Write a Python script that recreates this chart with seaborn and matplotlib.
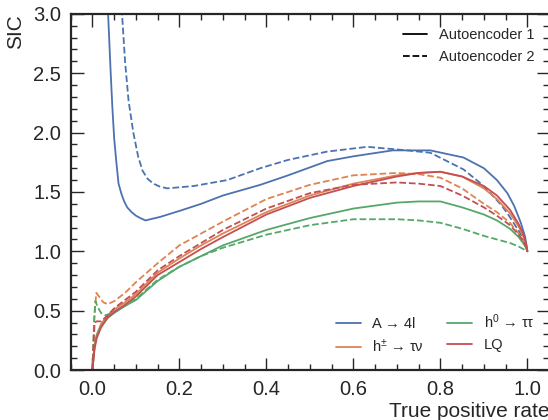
import matplotlib
matplotlib.use("Agg")
import matplotlib.pyplot as plt
from matplotlib.lines import Line2D
from matplotlib.ticker import MultipleLocator
import pandas as pd
import seaborn as sns

# SIC vs true positive rate
tpr = [0, 0.005, 0.01, 0.02, 0.035, 0.05, 0.075, 0.1, 0.125, 0.15, 0.2, 0.25,
       0.3, 0.4, 0.5, 0.6, 0.7, 0.75, 0.8, 0.85, 0.9, 0.93, 0.96, 0.98, 0.99,
       0.997, 1.0]

lq_ae1 = [0, 0.18, 0.27, 0.36, 0.44, 0.49, 0.55, 0.62, 0.71, 0.80, 0.91, 1.02,
          1.12, 1.31, 1.45, 1.55, 1.63, 1.66, 1.67, 1.63, 1.55, 1.47, 1.35,
          1.23, 1.15, 1.07, 1.0]
lq_ae2 = [0, 0.40, 0.41, 0.41, 0.46, 0.52, 0.59, 0.66, 0.75, 0.84, 0.96, 1.07,
          1.18, 1.36, 1.49, 1.56, 1.58, 1.57, 1.55, 1.47, 1.37, 1.30, 1.22,
          1.14, 1.09, 1.04, 1.0]
hpm_ae1 = [0, 0.22, 0.30, 0.39, 0.46, 0.51, 0.57, 0.64, 0.73, 0.82, 0.94, 1.05,
           1.15, 1.33, 1.47, 1.57, 1.64, 1.66, 1.67, 1.63, 1.53, 1.44, 1.32,
           1.21, 1.13, 1.06, 1.0]
h0_ae1 = [0, 0.20, 0.29, 0.37, 0.44, 0.48, 0.54, 0.59, 0.67, 0.75, 0.87, 0.96,
          1.05, 1.18, 1.28, 1.36, 1.41, 1.42, 1.42, 1.37, 1.31, 1.26, 1.19,
          1.12, 1.07, 1.03, 1.0]

tpr_hpm2 = [0, 0.004, 0.009, 0.015, 0.025, 0.035, 0.05, 0.075, 0.1, 0.125,
            0.15, 0.2, 0.25, 0.3, 0.4, 0.5, 0.6, 0.7, 0.75, 0.8, 0.85, 0.9,
            0.93, 0.96, 0.98, 0.99, 0.997, 1.0]
hpm_ae2 = [0, 0.45, 0.65, 0.62, 0.57, 0.555, 0.58, 0.65, 0.74, 0.82, 0.90,
           1.05, 1.15, 1.25, 1.44, 1.56, 1.64, 1.66, 1.65, 1.62, 1.53, 1.40,
           1.33, 1.24, 1.15, 1.09, 1.04, 1.0]

tpr_h02 = [0, 0.004, 0.007, 0.012, 0.02, 0.03, 0.05, 0.075, 0.1, 0.125, 0.15,
           0.2, 0.25, 0.3, 0.4, 0.5, 0.6, 0.7, 0.75, 0.8, 0.85, 0.9, 0.93,
           0.96, 0.98, 0.99, 1.0]
h0_ae2 = [0, 0.40, 0.58, 0.53, 0.48, 0.46, 0.49, 0.54, 0.60, 0.68, 0.76, 0.87,
          0.96, 1.03, 1.14, 1.22, 1.27, 1.27, 1.26, 1.24, 1.19, 1.13, 1.10,
          1.07, 1.04, 1.02, 1.0]

tpr_a1 = [0.033, 0.036, 0.039, 0.042, 0.046, 0.05, 0.055, 0.06, 0.067, 0.073,
          0.08, 0.09, 0.1, 0.11, 0.122, 0.156, 0.2, 0.25, 0.3, 0.386, 0.45,
          0.54, 0.6, 0.69, 0.777, 0.853, 0.9, 0.93, 0.954, 0.97, 0.985, 0.995,
          1.0]
a4l_ae1 = [3.3, 3.0, 2.75, 2.5, 2.2, 1.95, 1.75, 1.57, 1.48, 1.42, 1.37, 1.33,
           1.30, 1.28, 1.26, 1.29, 1.34, 1.40, 1.47, 1.56, 1.64, 1.76, 1.80,
           1.85, 1.85, 1.79, 1.70, 1.60, 1.49, 1.38, 1.24, 1.12, 1.0]
tpr_a2 = [0.065, 0.068, 0.075, 0.083, 0.094, 0.105, 0.115, 0.127, 0.14, 0.155,
          0.172, 0.233, 0.31, 0.386, 0.45, 0.54, 0.632, 0.724, 0.777, 0.853,
          0.89, 0.915, 0.94, 0.954, 0.97, 0.984, 0.995, 1.0]
a4l_ae2 = [3.3, 3.0, 2.6, 2.27, 2.0, 1.8, 1.68, 1.61, 1.57, 1.545, 1.53, 1.55,
           1.60, 1.70, 1.77, 1.84, 1.88, 1.85, 1.83, 1.69, 1.58, 1.49, 1.39,
           1.32, 1.23, 1.15, 1.07, 1.0]

processes = ["A → 4l", "h$^{\\pm}$ → τν", "h$^0$ → ττ", "LQ"]
models = ["Autoencoder 1", "Autoencoder 2"]
colors = dict(zip(processes, sns.color_palette("deep", 4)))

series = [
    (processes[0], models[0], tpr_a1, a4l_ae1),
    (processes[0], models[1], tpr_a2, a4l_ae2),
    (processes[1], models[0], tpr, hpm_ae1),
    (processes[1], models[1], tpr_hpm2, hpm_ae2),
    (processes[2], models[0], tpr, h0_ae1),
    (processes[2], models[1], tpr_h02, h0_ae2),
    (processes[3], models[0], tpr, lq_ae1),
    (processes[3], models[1], tpr, lq_ae2),
]
rows = []
for proc, model, xs, ys in series:
    for x, y in zip(xs, ys):
        rows.append({"process": proc, "model": model, "tpr": x, "sic": y})
df = pd.DataFrame(rows)

sns.set_style("ticks")
plt.rcParams["font.family"] = ["Liberation Sans", "DejaVu Sans"]
plt.rcParams["mathtext.fontset"] = "custom"
plt.rcParams["mathtext.rm"] = "Liberation Sans"
plt.rcParams["mathtext.it"] = "Liberation Sans:italic"

fig = plt.figure(figsize=(5.48, 4.2), dpi=100)
ax = fig.add_axes([0.129, 0.119, 0.873, 0.848])

sns.lineplot(data=df, x="tpr", y="sic", hue="process", style="model",
             hue_order=processes, style_order=models, palette=colors,
             dashes={models[0]: "", models[1]: (3.7, 1.6)},
             units="model", estimator=None, sort=False, lw=1.3,
             legend=False, ax=ax)

ax.set_xlim(-0.05, 1.05)
ax.set_ylim(0, 3.0)
ax.xaxis.set_major_locator(MultipleLocator(0.2))
ax.xaxis.set_minor_locator(MultipleLocator(0.05))
ax.yaxis.set_major_locator(MultipleLocator(0.5))
ax.yaxis.set_minor_locator(MultipleLocator(0.1))
ax.tick_params(which="both", direction="in", top=True, right=True,
               labelsize=14.5, width=1.0)
ax.tick_params(which="major", length=9, pad=7)
ax.tick_params(which="minor", length=4.5)
for s in ax.spines.values():
    s.set_linewidth(1.6)

ax.set_xlabel("True positive rate", fontsize=15, loc="right", labelpad=2)
ax.set_ylabel("SIC", fontsize=15, loc="top", labelpad=6)

style_handles = [Line2D([], [], color="black", lw=1.3, ls="-"),
                 Line2D([], [], color="black", lw=1.3, ls=(0, (3.7, 1.6)))]
leg1 = ax.legend(style_handles, models, loc="upper right", frameon=False,
                 fontsize=10.5, handlelength=1.7, handletextpad=0.8,
                 borderaxespad=0.6, labelspacing=0.5)
ax.add_artist(leg1)

proc_handles = [Line2D([], [], color=colors[p], lw=1.3) for p in processes]
ax.legend(proc_handles, processes, loc="lower right", ncol=2, frameon=False,
          fontsize=10.5, handlelength=1.7, handletextpad=0.8,
          columnspacing=1.6, borderaxespad=0.6, labelspacing=0.5)

fig.savefig("out.png", dpi=100)
